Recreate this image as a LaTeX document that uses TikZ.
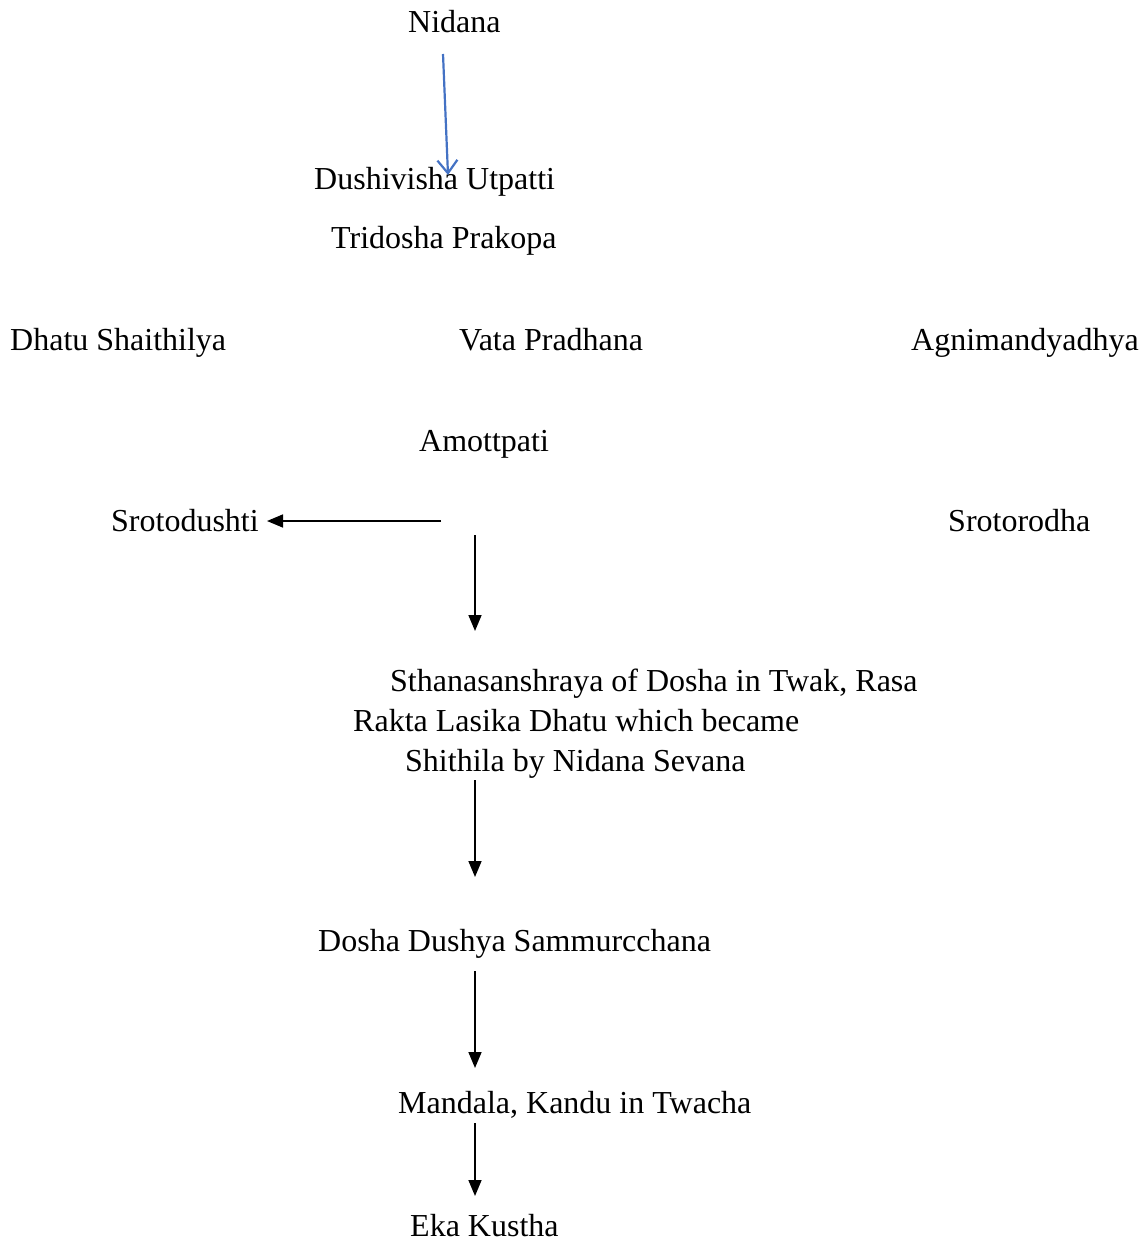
\documentclass[tikz,border=0pt]{standalone}
\usepackage{fontspec}
\setmainfont{Liberation Serif}
\usetikzlibrary{arrows.meta}
\definecolor{arrowblue}{HTML}{4472C4}
\tikzset{
  lbl/.style={anchor=base west, inner sep=0pt, font=\fontsize{32}{38}\selectfont},
  blk/.style={draw=black, line width=1.6pt, -{Triangle[length=16pt,width=13pt]}},
  blu/.style={draw=arrowblue, line width=2.2pt, -{Straight Barb[length=13pt,width=20pt,line width=2.2pt]}}
}
\begin{document}
\begin{tikzpicture}[x=1pt,y=-1pt]
\useasboundingbox (0,0) rectangle (1141,1241);
\node[lbl] (nidana) at (408,33) {Nidana};
\node[lbl] (dushi) at (314,190) {Dushivisha Utpatti};
\node[lbl] (tri) at (331,249) {Tridosha Prakopa};
\node[lbl] (dhatu) at (10,350) {Dhatu Shaithilya};
\node[lbl] (vata) at (459,350) {Vata Pradhana};
\node[lbl] (agni) at (911,350) {Agnimandyadhya};
\node[lbl] (amo) at (419,451) {Amottpati};
\node[lbl] (srotod) at (111,531) {Srotodushti};
\node[lbl] (srotor) at (948,531) {Srotorodha};
\node[lbl] (sth1) at (390,691) {Sthanasanshraya of Dosha in Twak, Rasa};
\node[lbl] (sth2) at (353,731) {Rakta Lasika Dhatu which became};
\node[lbl] (sth3) at (405,771) {Shithila by Nidana Sevana};
\node[lbl] (dosha) at (318,951) {Dosha Dushya Sammurcchana};
\node[lbl] (mand) at (398,1113) {Mandala, Kandu in Twacha};
\node[lbl] (eka) at (410,1236) {Eka Kustha};

\coordinate (b1) at (443,54);
\coordinate (b2) at (448,175);
\coordinate (s1) at (441,521);
\coordinate (s2) at (267,521);
\coordinate (d1a) at (475,535);
\coordinate (d1b) at (475,631);
\coordinate (d2a) at (475,780);
\coordinate (d2b) at (475,877);
\coordinate (d3a) at (475,971);
\coordinate (d3b) at (475,1068);
\coordinate (d4a) at (475,1123);
\coordinate (d4b) at (475,1196);

\draw[blu] (b1) -- (b2);
\draw[blk] (s1) -- (s2);
\draw[blk] (d1a) -- (d1b);
\draw[blk] (d2a) -- (d2b);
\draw[blk] (d3a) -- (d3b);
\draw[blk] (d4a) -- (d4b);
\end{tikzpicture}
\end{document}
